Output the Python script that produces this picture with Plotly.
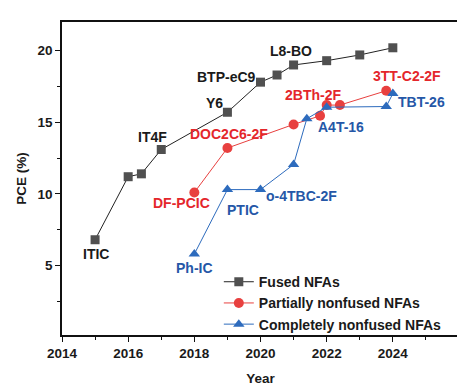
import plotly.graph_objects as go

fused_x = [2015.0, 2016.0, 2016.4, 2017.0, 2019.0, 2020.0, 2020.5, 2021.0, 2022.0, 2023.0, 2024.0]
fused_y = [6.8, 11.2, 11.4, 13.1, 15.7, 17.8, 18.3, 19.0, 19.3, 19.7, 20.2]

partial_x = [2018.0, 2019.0, 2021.0, 2021.8, 2022.0, 2022.4, 2023.8]
partial_y = [10.1, 13.2, 14.85, 15.45, 16.2, 16.2, 17.2]

complete_x = [2018.0, 2019.0, 2020.0, 2021.0, 2021.4, 2022.0, 2023.8, 2024.0]
complete_y = [5.8, 10.3, 10.3, 12.05, 15.25, 16.05, 16.1, 17.0]

x_ticks = [2014, 2016, 2018, 2020, 2022, 2024]
y_ticks = [5, 10, 15, 20]

# label text, series, label anchor (x, y)
labels = [
    ("ITIC", "fused", 2015.04, 5.82),
    ("IT4F", "fused", 2016.74, 13.98),
    ("Y6", "fused", 2018.62, 16.32),
    ("BTP-eC9", "fused", 2018.98, 18.16),
    ("L8-BO", "fused", 2020.92, 20.0),
    ("DF-PCIC", "partial", 2017.6, 9.35),
    ("DOC2C6-2F", "partial", 2019.05, 14.16),
    ("2BTh-2F", "partial", 2021.6, 16.89),
    ("3TT-C2-2F", "partial", 2024.44, 18.2),
    ("Ph-IC", "complete", 2017.99, 4.85),
    ("PTIC", "complete", 2019.47, 8.89),
    ("o-4TBC-2F", "complete", 2021.24, 9.87),
    ("A4T-16", "complete", 2022.44, 14.64),
    ("TBT-26", "complete", 2024.87, 16.43),
]

text_colors = {"fused": "#1a1a1a", "partial": "#e4262b", "complete": "#2557a7"}
FONT = "Liberation Sans, Arial, sans-serif"

fig = go.Figure()
fig.add_trace(go.Scatter(
    x=fused_x, y=fused_y, mode="lines+markers", name="<b>Fused NFAs</b>",
    line=dict(color="#222222", width=1),
    marker=dict(symbol="square", size=9, color="#505050"),
))
fig.add_trace(go.Scatter(
    x=partial_x, y=partial_y, mode="lines+markers", name="<b>Partially nonfused NFAs</b>",
    line=dict(color="#e8403f", width=1),
    marker=dict(symbol="circle", size=10, color="#e8403f"),
))
fig.add_trace(go.Scatter(
    x=complete_x, y=complete_y, mode="lines+markers", name="<b>Completely nonfused NFAs</b>",
    line=dict(color="#2d6bbd", width=1),
    marker=dict(symbol="triangle-up", size=10, color="#2d6bbd"),
))

for txt, ser, lx, ly in labels:
    fig.add_annotation(x=lx, y=ly, text="<b>%s</b>" % txt, showarrow=False,
                       xanchor="center", yanchor="middle",
                       font=dict(family=FONT, size=14, color=text_colors[ser]))

fig.update_layout(
    width=465, height=388,
    margin=dict(l=53, r=13, t=14, b=53),
    plot_bgcolor="white", paper_bgcolor="white",
    font=dict(family=FONT, size=13, color="#1a1a1a"),
    showlegend=True,
    legend=dict(x=0.395, y=0.22, xanchor="left", yanchor="top",
                bgcolor="rgba(0,0,0,0)", font=dict(size=14, family=FONT, color="#1a1a1a"),
                tracegroupgap=0, itemwidth=30),
)
fig.update_xaxes(
    range=[2014, 2026], tickvals=x_ticks, ticktext=["<b>%d</b>" % v for v in x_ticks],
    showgrid=False, zeroline=False, showline=True, linecolor="#111", linewidth=1.5,
    mirror=True, ticks="outside", ticklen=5, tickcolor="#111",
    minor=dict(dtick=1, ticks="outside", ticklen=3, tickcolor="#111"),
    title=dict(text="<b>Year</b>", font=dict(size=13.5), standoff=14),
    tickfont=dict(size=13.5),
)
fig.update_yaxes(
    range=[0.15, 22], tickvals=y_ticks, ticktext=["<b>%d</b>" % v for v in y_ticks],
    showgrid=False, zeroline=False, showline=True, linecolor="#111", linewidth=1.5,
    mirror=True, ticks="outside", ticklen=5, tickcolor="#111",
    minor=dict(tickvals=[2.5, 7.5, 12.5, 17.5], ticks="outside", ticklen=3, tickcolor="#111"),
    title=dict(text="<b>PCE (%)</b>", font=dict(size=13.5), standoff=8),
    tickfont=dict(size=13.5),
)

fig.write_html("out.html")
